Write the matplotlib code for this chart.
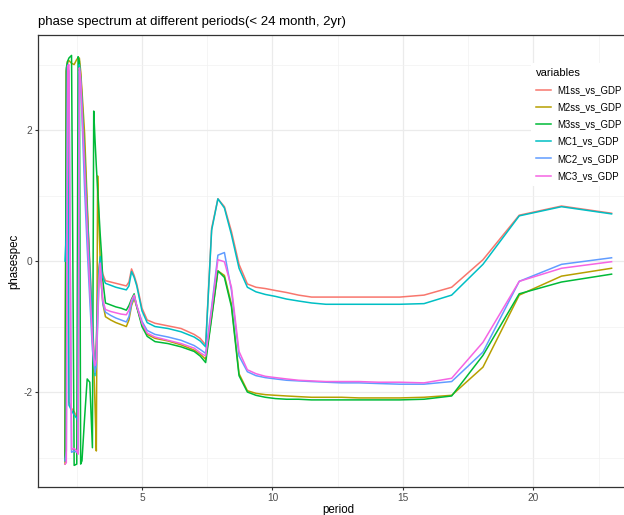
import numpy as np
import matplotlib
matplotlib.use("Agg")
import matplotlib.pyplot as plt
from matplotlib.ticker import MultipleLocator

plt.rcParams['font.family'] = ['Liberation Sans', 'DejaVu Sans']
plt.rcParams['axes.unicode_minus'] = False

# periods (months)
period = [2.05, 2.1, 2.15, 2.2, 2.3, 2.4, 2.5, 2.55, 2.6, 2.65, 2.7, 2.8, 2.9, 3.0,
          3.1, 3.15, 3.2, 3.25, 3.3, 3.35, 3.4, 3.45,
          3.5, 3.6, 3.8, 4.0, 4.2, 4.4, 4.5, 4.6, 4.7, 4.8, 5.0, 5.2, 5.5, 6.0,
          6.5, 7.0, 7.23, 7.44,
          7.67, 7.91, 8.16, 8.43, 8.72, 9.04, 9.37, 9.73, 10.12, 10.54, 11.0,
          11.5, 12.05, 12.65, 13.32, 14.06, 14.88, 15.81, 16.87, 18.07, 19.46,
          21.08, 23.0]

m1ss = [-3.0, 2.9, 3.05, -2.15, -2.25, -2.3, -2.38, -2.42, 3.02, 2.85, 2.5, 1.7, 0.8, 0.0,
        -0.9, -1.3, -1.65, -1.2, -0.5, -0.1, 0.05, -0.1,
        -0.2, -0.3, -0.32, -0.34, -0.36, -0.38, -0.32, -0.12, -0.22, -0.35, -0.72, -0.9, -0.95, -0.99,
        -1.03, -1.12, -1.18, -1.28,
        0.5, 0.95, 0.83, 0.45, -0.05, -0.35, -0.40, -0.42, -0.45, -0.48, -0.52,
        -0.55, -0.55, -0.55, -0.55, -0.55, -0.55, -0.52, -0.40, 0.02, 0.70,
        0.84, 0.73]

m2ss = [-3.1, 2.9, 3.05, 3.06, 3.02, 3.0, 3.08, 3.1, 3.1, 2.9, 2.6, 1.95, 0.9, -0.2,
        -1.2, -1.6, -2.2, -2.9, 1.3, 0.6, 0.0, -0.4,
        -0.65, -0.85, -0.9, -0.94, -0.97, -1.0, -0.9, -0.68, -0.57, -0.7, -0.96, -1.12, -1.18, -1.22,
        -1.28, -1.36, -1.42, -1.5,
        -0.85, -0.15, -0.22, -0.66, -1.72, -1.98, -2.02, -2.04, -2.05, -2.06, -2.07,
        -2.08, -2.08, -2.08, -2.09, -2.09, -2.09, -2.08, -2.05, -1.62, -0.52,
        -0.23, -0.11]

m3ss = [-3.05, 2.95, 3.05, 3.1, 3.14, -3.12, -3.1, 3.12, 3.05, -3.1, -3.05, -2.4, -1.8, -1.85,
        -2.85, 2.29, 1.85, 1.45, 1.1, 0.75, 0.4, 0.1,
        -0.3, -0.64, -0.67, -0.7, -0.72, -0.75, -0.68, -0.58, -0.5, -0.7, -1.0, -1.15, -1.23, -1.26,
        -1.31, -1.38, -1.45, -1.55,
        -0.87, -0.15, -0.25, -0.70, -1.75, -2.0, -2.05, -2.08, -2.1, -2.11, -2.11,
        -2.12, -2.12, -2.12, -2.12, -2.12, -2.12, -2.11, -2.06, -1.44, -0.50,
        -0.32, -0.20]

mc1 = [0.0, 0.43, 3.0, -2.2, -2.28, -2.35, -2.4, -2.45, 3.0, 2.8, 2.45, 1.6, 0.7, -0.1,
       -1.0, -1.4, -1.75, -1.3, -0.6, -0.15, 0.07, -0.15,
       -0.25, -0.34, -0.37, -0.4, -0.42, -0.44, -0.38, -0.16, -0.25, -0.38, -0.76, -0.94, -1.0, -1.03,
       -1.08, -1.16, -1.22, -1.31,
       0.47, 0.95, 0.81, 0.40, -0.11, -0.40, -0.47, -0.51, -0.54, -0.58, -0.61,
       -0.64, -0.66, -0.66, -0.66, -0.66, -0.66, -0.65, -0.52, -0.05, 0.69,
       0.83, 0.72]

mc2 = [-3.05, -2.9, 2.97, 2.9, -2.92, -2.9, -2.92, -2.9, 2.9, 2.7, 2.2, 1.1, 0.2, -0.6,
       -1.35, -1.55, -1.7, -1.6, -1.0, -0.35, -0.05, -0.4,
       -0.65, -0.78, -0.83, -0.87, -0.9, -0.93, -0.85, -0.65, -0.54, -0.68, -0.92, -1.06, -1.12, -1.16,
       -1.21, -1.29, -1.35, -1.41,
       -0.7, 0.09, 0.13, -0.45, -1.45, -1.69, -1.75, -1.78, -1.8, -1.82, -1.83,
       -1.84, -1.85, -1.86, -1.86, -1.87, -1.88, -1.88, -1.84, -1.39, -0.31,
       -0.05, 0.05]

mc3 = [-3.1, -3.08, 2.98, 3.0, -2.88, -2.86, -2.9, -2.95, 2.95, 2.75, 2.3, 1.45, 0.5, -0.4,
       -1.2, -1.45, -1.6, -1.5, -0.9, -0.3, -0.03, -0.35,
       -0.6, -0.74, -0.77, -0.79, -0.81, -0.82, -0.75, -0.6, -0.52, -0.68, -0.95, -1.1, -1.16, -1.21,
       -1.26, -1.33, -1.4, -1.45,
       -0.75, 0.02, -0.01, -0.40, -1.38, -1.66, -1.72, -1.76, -1.78, -1.8, -1.82,
       -1.83, -1.84, -1.84, -1.84, -1.85, -1.85, -1.86, -1.79, -1.24, -0.31,
       -0.11, -0.01]

series = [m1ss, m2ss, m3ss, mc1, mc2, mc3]
labels = ['M1ss_vs_GDP', 'M2ss_vs_GDP', 'M3ss_vs_GDP', 'MC1_vs_GDP', 'MC2_vs_GDP', 'MC3_vs_GDP']
colors = ['#F8766D', '#B79F00', '#00BA38', '#00BFC4', '#619CFF', '#F564E3']

fig = plt.figure(figsize=(6.24, 5.15), dpi=100)
ax = fig.add_axes([0.0604, 0.0536, 0.9636, 0.879])

for si, s in enumerate(series):
    ax.plot(period, s, color=colors[si], linewidth=1.1, label=labels[si])

ax.set_xlim(1.0025, 24.05)
ax.set_ylim(-3.456, 3.456)
ax.xaxis.set_major_locator(MultipleLocator(5))
ax.xaxis.set_minor_locator(MultipleLocator(2.5))
ax.yaxis.set_major_locator(MultipleLocator(2))
ax.yaxis.set_minor_locator(MultipleLocator(1))
ax.grid(which='major', color='#EBEBEB', linewidth=0.9)
ax.grid(which='minor', color='#F2F2F2', linewidth=0.5)
ax.set_axisbelow(True)
for sp in ax.spines.values():
    sp.set_color('#333333')
    sp.set_linewidth(0.9)
ax.tick_params(which='major', length=2.5, width=0.8, color='#333333',
               labelcolor='#4D4D4D', labelsize=7.3, pad=1.5)
ax.tick_params(which='minor', length=0)

ax.set_xlabel('period', fontsize=8.3, labelpad=1)
ax.set_ylabel('phasespec', fontsize=8.3, labelpad=2)
ax.set_title('phase spectrum at different periods(< 24 month, 2yr)', fontsize=9.5,
             loc='left', pad=7)

leg = ax.legend(title='variables', loc='upper left', bbox_to_anchor=(0.812, 0.948),
                frameon=True, fontsize=6.9, title_fontsize=8, handlelength=1.65,
                handletextpad=0.6, labelspacing=0.75, borderpad=0.5, alignment='left')
leg.get_frame().set_facecolor('white')
leg.get_frame().set_edgecolor('none')
leg.get_frame().set_alpha(1)

fig.savefig('out.png', dpi=100)
